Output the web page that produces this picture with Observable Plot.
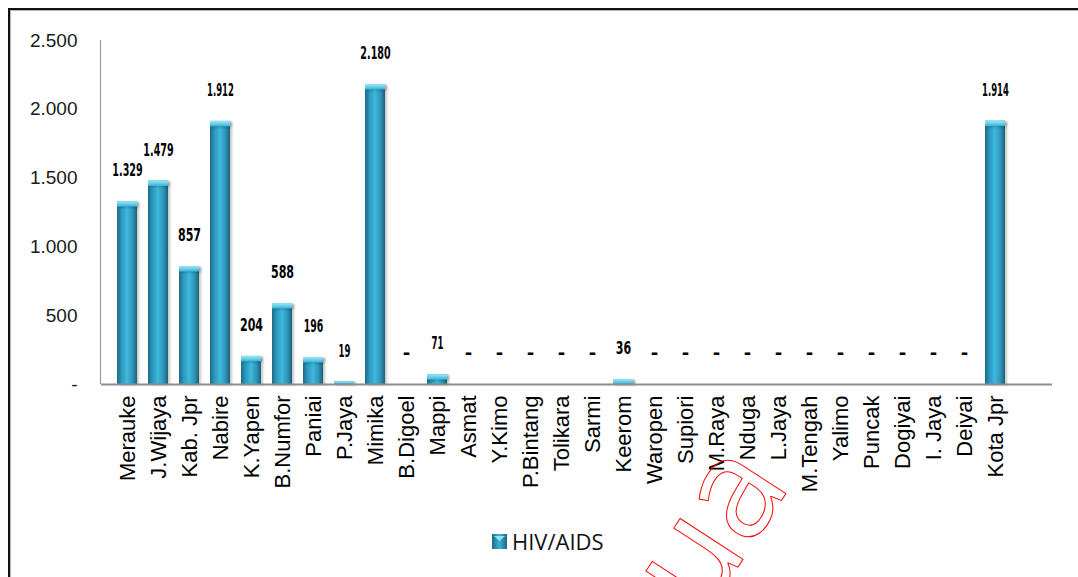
<!DOCTYPE html>
<html>
<head>
<meta charset="utf-8">
<script src="https://cdn.jsdelivr.net/npm/d3@7"></script>
<script src="https://cdn.jsdelivr.net/npm/@observablehq/plot@0.6"></script>
<style>
  html, body { margin: 0; padding: 0; background: #fff; overflow: hidden; }
  #wrap { position: relative; width: 1078px; height: 577px; overflow: hidden; background: #fff; }
  #border { position: absolute; left: 8px; top: 8px; width: 1200px; height: 700px;
            border-left: 2px solid #111; border-top: 2px solid #111;
            box-shadow: inset 1px 1px 0 #b5b5b5; }
  #chart { position: absolute; left: 0; top: 0; }
  #legend { position: absolute; left: 492px; top: 526px; display: flex; align-items: center;
            font-family: "Open Sans", sans-serif; font-size: 22px; color: #111; }
  #legend svg { margin-right: 5px; }
  #stamp { position: absolute; left: 0; top: 0; pointer-events: none; }
</style>
</head>
<body>
<div id="wrap">
  <div id="border"></div>
  <div id="chart"></div>
  <div id="legend">
    <svg width="15" height="15" viewBox="0 0 15 15">
      <defs>
        <linearGradient id="swatchGrad" x1="0" x2="1" y1="0" y2="0">
          <stop offset="0" stop-color="#1e6c88"/>
          <stop offset="0.5" stop-color="#3cb3d8"/>
          <stop offset="1" stop-color="#1d6580"/>
        </linearGradient>
      </defs>
      <rect x="0" y="0" width="15" height="15" fill="url(#swatchGrad)"/>
      <path d="M2,2 L13,2 L7.5,7 Z" fill="#8fe2f4"/>
    </svg>
    <span>HIV/AIDS</span>
  </div>
  <svg id="stamp" width="1078" height="577">
    <text transform="translate(792,484) rotate(-57)" text-anchor="end"
          font-family="Open Sans" font-size="140" fill="none" stroke="#ff0000" stroke-width="1">ua</text>
  </svg>
</div>
<script>
// Reported HIV/AIDS cases per regency / city
const regions = ["Merauke", "J.Wijaya", "Kab. Jpr", "Nabire", "K.Yapen", "B.Numfor", "Paniai", "P.Jaya",
  "Mimika", "B.Digoel", "Mappi", "Asmat", "Y.Kimo", "P.Bintang", "Tolikara", "Sarmi", "Keerom",
  "Waropen", "Supiori", "M.Raya", "Nduga", "L.Jaya", "M.Tengah", "Yalimo", "Puncak", "Dogiyai",
  "I. Jaya", "Deiyai", "Kota Jpr"];
const cases = [1329, 1479, 857, 1912, 204, 588, 196, 19,
  2180, 0, 71, 0, 0, 0, 0, 0, 36,
  0, 0, 0, 0, 0, 0, 0, 0, 0,
  0, 0, 1914];
const yTicks = [0, 500, 1000, 1500, 2000, 2500];

const data = regions.map((region, i) => ({region, value: cases[i]}));

// Dot as thousands separator, dash for zero
const fmt = d3.formatLocale({decimal: ",", thousands: ".", grouping: [3], currency: ["", ""]}).format(",");
const label = v => v === 0 ? "-" : fmt(v);

const chart = Plot.plot({
  width: 1078,
  height: 510,
  marginLeft: 101,
  marginRight: 26,
  marginTop: 40,
  marginBottom: 126,
  style: {background: "transparent", fontFamily: "'Liberation Sans', Arial, sans-serif", overflow: "visible"},
  x: {domain: regions, range: [101, 1021], padding: 0.37, label: null},
  y: {domain: [0, 2500], label: null},
  marks: [
    Plot.axisY({ticks: yTicks, tickSize: 0, tickPadding: 24, tickFormat: label, fontSize: 19, fill: "#1a1a1a"}),
    Plot.axisX({tickSize: 0, tickPadding: 11, tickRotate: -90, fontSize: 22, fill: "#000"}),
    Plot.barY(data, {x: "region", y: "value", fill: "url(#barGrad)"}),
    Plot.barY(data.filter(d => d.value > 0), {x: "region", y1: d => Math.max(0, d.value - 40), y2: "value", fill: "url(#capGrad)"}),
    Plot.ruleY([0], {stroke: "#8c8c8c", strokeWidth: 2}),
    Plot.text(data, {x: "region", y: "value", text: d => label(d.value), dy: -31,
      fontWeight: "bold", fontSize: 18, fontFamily: "DejaVu Sans", fill: "#000"})
  ]
});

document.getElementById("chart").appendChild(chart);

// Cylinder-style shading for the bars
const defs = d3.select(chart).insert("defs", ":first-child");
const barGrad = defs.append("linearGradient").attr("id", "barGrad").attr("x1", 0).attr("x2", 1).attr("y1", 0).attr("y2", 0);
[[0, "#1d6a86"], [0.22, "#2c97bc"], [0.5, "#3fb9dd"], [0.78, "#2c94b8"], [1, "#1b617b"]]
  .forEach(([o, c]) => barGrad.append("stop").attr("offset", o).attr("stop-color", c));
const capGrad = defs.append("linearGradient").attr("id", "capGrad").attr("x1", 0).attr("x2", 0).attr("y1", 0).attr("y2", 1);
[[0, "#9be8f7"], [0.6, "#5fcbe6"], [1, "#38acd2"]]
  .forEach(([o, c]) => capGrad.append("stop").attr("offset", o).attr("stop-color", c));

d3.select(chart).selectAll('g[aria-label="bar"]').style("filter", "drop-shadow(2px 1px 1px rgba(0,0,0,0.22))");

// Vertical axis line along the left of the plot area
const y = chart.scale("y");
d3.select(chart).append("line")
  .attr("x1", 100.5).attr("x2", 100.5)
  .attr("y1", y.apply(2500)).attr("y2", y.apply(0))
  .attr("stroke", "#9a9a9a").attr("stroke-width", 1.2);

// Narrow condensed look for the value labels
const charW = ch => ch === "1" ? 4.2 : ch === "." ? 3 : 7.7;
d3.select(chart).selectAll('g[aria-label="text"] text').each(function() {
  const t = this.textContent;
  if (t === "-") return;
  const w = Array.from(t).reduce((s, ch) => s + charW(ch), 0);
  this.setAttribute("textLength", w);
  this.setAttribute("lengthAdjust", "spacingAndGlyphs");
});
</script>
</body>
</html>
